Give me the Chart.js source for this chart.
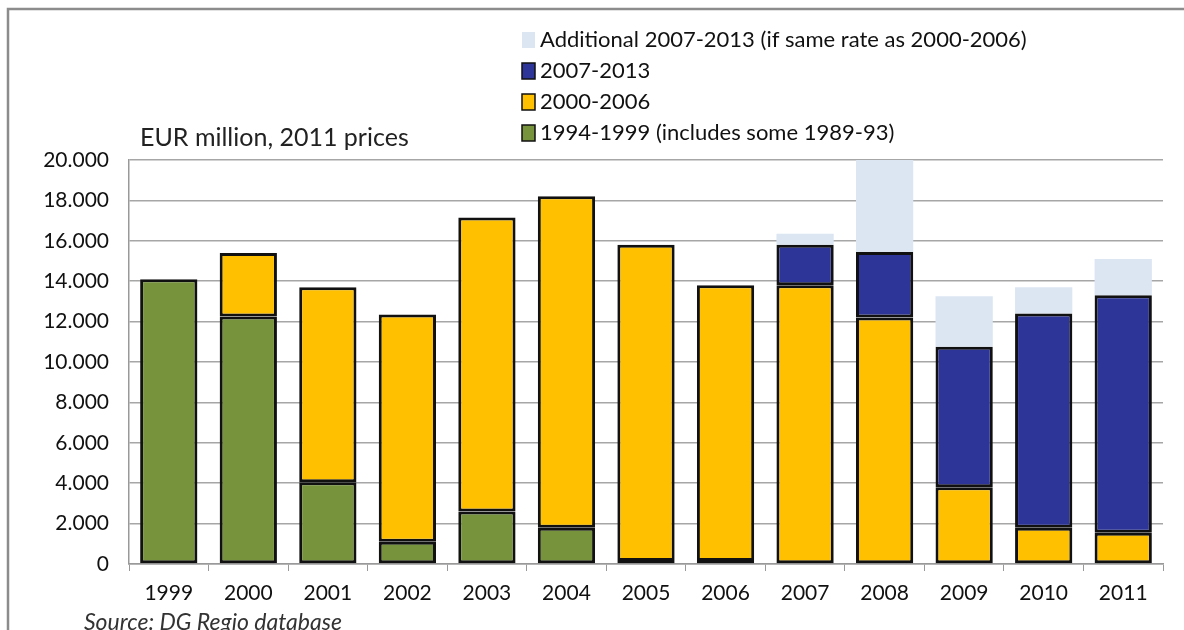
<!DOCTYPE html>
<html>
<head>
<meta charset="utf-8">
<script src="https://cdn.jsdelivr.net/npm/chart.js@4.4.1/dist/chart.umd.min.js"></script>
<style>
  html, body { margin: 0; padding: 0; background: #fff; }
  #wrap { width: 1184px; height: 630px; position: relative; }
</style>
</head>
<body>
<div id="wrap"><canvas id="chart" width="1184" height="630"></canvas></div>
<script>
// Data (EUR million, 2011 prices)
const years = ['1999', '2000', '2001', '2002', '2003', '2004', '2005', '2006', '2007', '2008', '2009', '2010', '2011'];
const period1994 = [14100, 12250, 4050, 1100, 2600, 1800, 150, 150, null, null, null, null, null];
const period2000 = [null, 3150, 9650, 11250, 14550, 16400, 15650, 13650, 13800, 12200, 3800, 1800, 1550];
const period2007 = [null, null, null, null, null, null, null, null, 2000, 3250, 6950, 10600, 11750];
const additional = [null, null, null, null, null, null, null, null, 550, 4550, 2500, 1300, 1800];
const yTicks = [0, 2000, 4000, 6000, 8000, 10000, 12000, 14000, 16000, 18000, 20000];

const FONT = 'Lato, "Open Sans", sans-serif';

function fmt(v) {
    return v.toString().replace(/\B(?=(\d{3})+(?!\d))/g, '.');
}

// Legend, title, source and frame drawn by hand
const decorations = {
    id: 'decorations',
    afterDraw(chart) {
        const ctx = chart.ctx;
        ctx.save();

        // frame
        ctx.strokeStyle = '#8c8c8c';
        ctx.lineWidth = 2.5;
        ctx.beginPath();
        ctx.moveTo(8, 630);
        ctx.lineTo(8, 9);
        ctx.lineTo(1184, 9);
        ctx.stroke();

        // title
        ctx.fillStyle = '#222';
        ctx.font = '25px ' + FONT;
        ctx.textBaseline = 'middle';
        ctx.textAlign = 'left';
        ctx.fillText('EUR million, 2011 prices', 140, 138);

        // legend (reverse order)
        const ds = chart.data.datasets.slice().reverse();
        ctx.font = '22px ' + FONT;
        ds.forEach((d, i) => {
            const y = 40 + i * 31;
            ctx.fillStyle = d.backgroundColor;
            ctx.fillRect(522, y - 8, 13, 16);
            if (d.borderWidth) {
                ctx.strokeStyle = '#111';
                ctx.lineWidth = 1.5;
                ctx.strokeRect(522, y - 8, 13, 16);
            }
            ctx.fillStyle = '#111';
            ctx.fillText(d.label, 540, y);
        });

        // source
        ctx.font = 'italic 23px ' + FONT;
        ctx.fillStyle = '#333';
        ctx.fillText('Source: DG Regio database', 84, 623);

        ctx.restore();
    }
};

const barCommon = {
    borderColor: '#111',
    borderWidth: 3,
    borderSkipped: false,
    barPercentage: 0.72,
    categoryPercentage: 1.0
};

new Chart(document.getElementById('chart'), {
    type: 'bar',
    data: {
        labels: years,
        datasets: [
            Object.assign({ label: '1994-1999 (includes some 1989-93)', data: period1994, backgroundColor: '#77933C' }, barCommon),
            Object.assign({ label: '2000-2006', data: period2000, backgroundColor: '#FFC000' }, barCommon),
            Object.assign({ label: '2007-2013', data: period2007, backgroundColor: '#2E3599' }, barCommon),
            { label: 'Additional 2007-2013 (if same rate as 2000-2006)', data: additional, backgroundColor: '#DCE6F2',
              borderWidth: 0, barPercentage: 0.72, categoryPercentage: 1.0 }
        ]
    },
    options: {
        responsive: false,
        animation: false,
        layout: { padding: { left: 0, right: 21, top: 160, bottom: 0 } },
        plugins: {
            legend: { display: false },
            tooltip: { enabled: false }
        },
        scales: {
            x: {
                stacked: true,
                grid: { display: true, drawOnChartArea: false, drawTicks: true, tickLength: 7, offset: true, color: '#999' },
                border: { color: '#999', width: 1.5 },
                ticks: { color: '#111', font: { family: FONT, size: 21 }, padding: 10 },
                afterFit(s) { s.height = 66; }
            },
            y: {
                stacked: true,
                min: 0,
                max: 20000,
                afterBuildTicks(s) { s.ticks = yTicks.map(v => ({ value: v })); },
                grid: { color: '#a6a6a6', lineWidth: 1.5, drawTicks: false },
                border: { color: '#999', width: 1.5 },
                ticks: { color: '#111', font: { family: FONT, size: 21 }, padding: 20, callback: v => fmt(v) },
                afterFit(s) { s.width = 129; }
            }
        }
    },
    plugins: [decorations]
});
</script>
</body>
</html>
